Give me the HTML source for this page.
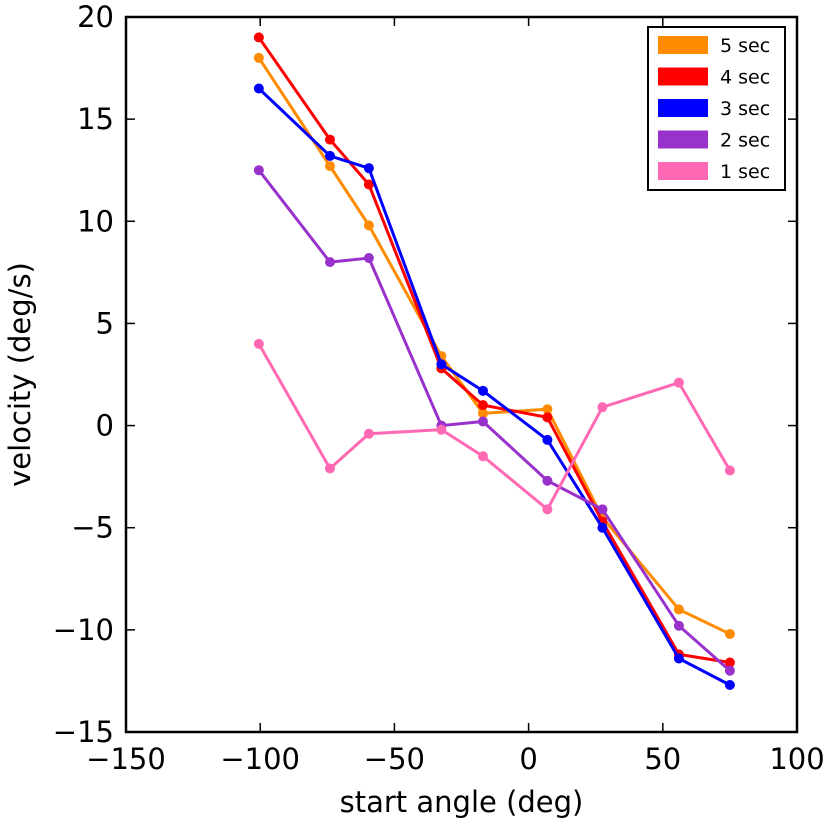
<!DOCTYPE html>
<html><head><meta charset="utf-8"><style>
body{margin:0;background:#fff}
svg text{font-family:"DejaVu Sans","Liberation Sans",sans-serif;fill:#000}
</style></head><body>
<svg id="chart" width="825" height="825" xmlns="http://www.w3.org/2000/svg"></svg>
<script>
const xVals=[-100.5,-74,-59.5,-32.5,-17,7,27.5,56,75];
const sec5=[18,12.7,9.8,3.4,0.6,0.8,-4.5,-9,-10.2];
const sec4=[19,14,11.8,2.8,1.0,0.4,-4.7,-11.2,-11.6];
const sec3=[16.5,13.2,12.6,3.0,1.7,-0.7,-5.0,-11.4,-12.7];
const sec2=[12.5,8,8.2,0,0.2,-2.7,-4.1,-9.8,-12];
const sec1=[4,-2.1,-0.4,-0.2,-1.5,-4.1,0.9,2.1,-2.2];
const seriesNames=["5 sec","4 sec","3 sec","2 sec","1 sec"];
const xTicks=[-150,-100,-50,0,50,100];
const yTicks=[-15,-10,-5,0,5,10,15,20];

const svg=document.getElementById('chart');
const NS="http://www.w3.org/2000/svg";
const L=126,R=797,T=17,B=732;
const xs=v=>L+(v+150)/250*(R-L);
const ys=v=>B-(v+15)/35*(B-T);
function mk(t,a,p){const e=document.createElementNS(NS,t);for(const k in a)e.setAttribute(k,a[k]);(p||svg).appendChild(e);return e;}

const series=[sec5,sec4,sec3,sec2,sec1];
const colors=["#ff8c00","#ff0000","#0000ff","#9932cc","#ff69b4"];
series.forEach((s,i)=>{
  const g=mk('g',{});
  
  
  const pl=mk('polyline',{points:s.map((v,j)=>xs(xVals[j])+','+ys(v)).join(' '),fill:'none',stroke:colors[i],'stroke-width':3},g);
  
  
  s.forEach((v,j)=>{
    const c=mk('circle',{cx:xs(xVals[j]),cy:ys(v),r:5,fill:colors[i]},g);
    
    
  });
});

const frame=mk('rect',{x:L,y:T,width:R-L,height:B-T,fill:'none',stroke:'#000','stroke-width':2.5});



xTicks.forEach(v=>{
  const x=xs(v);
  mk('line',{x1:x,x2:x,y1:B,y2:B-9,stroke:'#000','stroke-width':1.5});
  mk('line',{x1:x,x2:x,y1:T,y2:T+9,stroke:'#000','stroke-width':1.5});
  const t=mk('text',{x:x,y:B+37,'text-anchor':'middle','font-size':29});
  t.textContent=(v<0?'\u2212'+(-v):v);
  
  
});
yTicks.forEach(v=>{
  const y=ys(v);
  mk('line',{x1:L,x2:L+9,y1:y,y2:y,stroke:'#000','stroke-width':1.5});
  mk('line',{x1:R,x2:R-9,y1:y,y2:y,stroke:'#000','stroke-width':1.5});
  const t=mk('text',{x:L-12,y:y+10,'text-anchor':'end','font-size':29});
  t.textContent=(v<0?'\u2212'+(-v):v);
  
  
});
const xt=mk('text',{x:(L+R)/2+0,y:812,'text-anchor':'middle','font-size':29});
xt.textContent='start angle (deg)';


const yt=mk('text',{x:0,y:0,'text-anchor':'middle','font-size':29,transform:'translate(30,'+(T+B)/2+') rotate(-90)'});
yt.textContent='velocity (deg/s)';



const lg=mk('g',{});


mk('rect',{x:648,y:27,width:137,height:163,fill:'#fff',stroke:'#000','stroke-width':2},lg);
seriesNames.forEach((n,i)=>{
  const y=45+i*31.5;
  const sw=mk('rect',{x:658,y:y-9,width:50,height:18,fill:colors[i]},lg);
  
  
  const t=mk('text',{x:720,y:y+7,'font-size':19},lg);
  t.textContent=n;
  
  
});
</script>
</body></html>
